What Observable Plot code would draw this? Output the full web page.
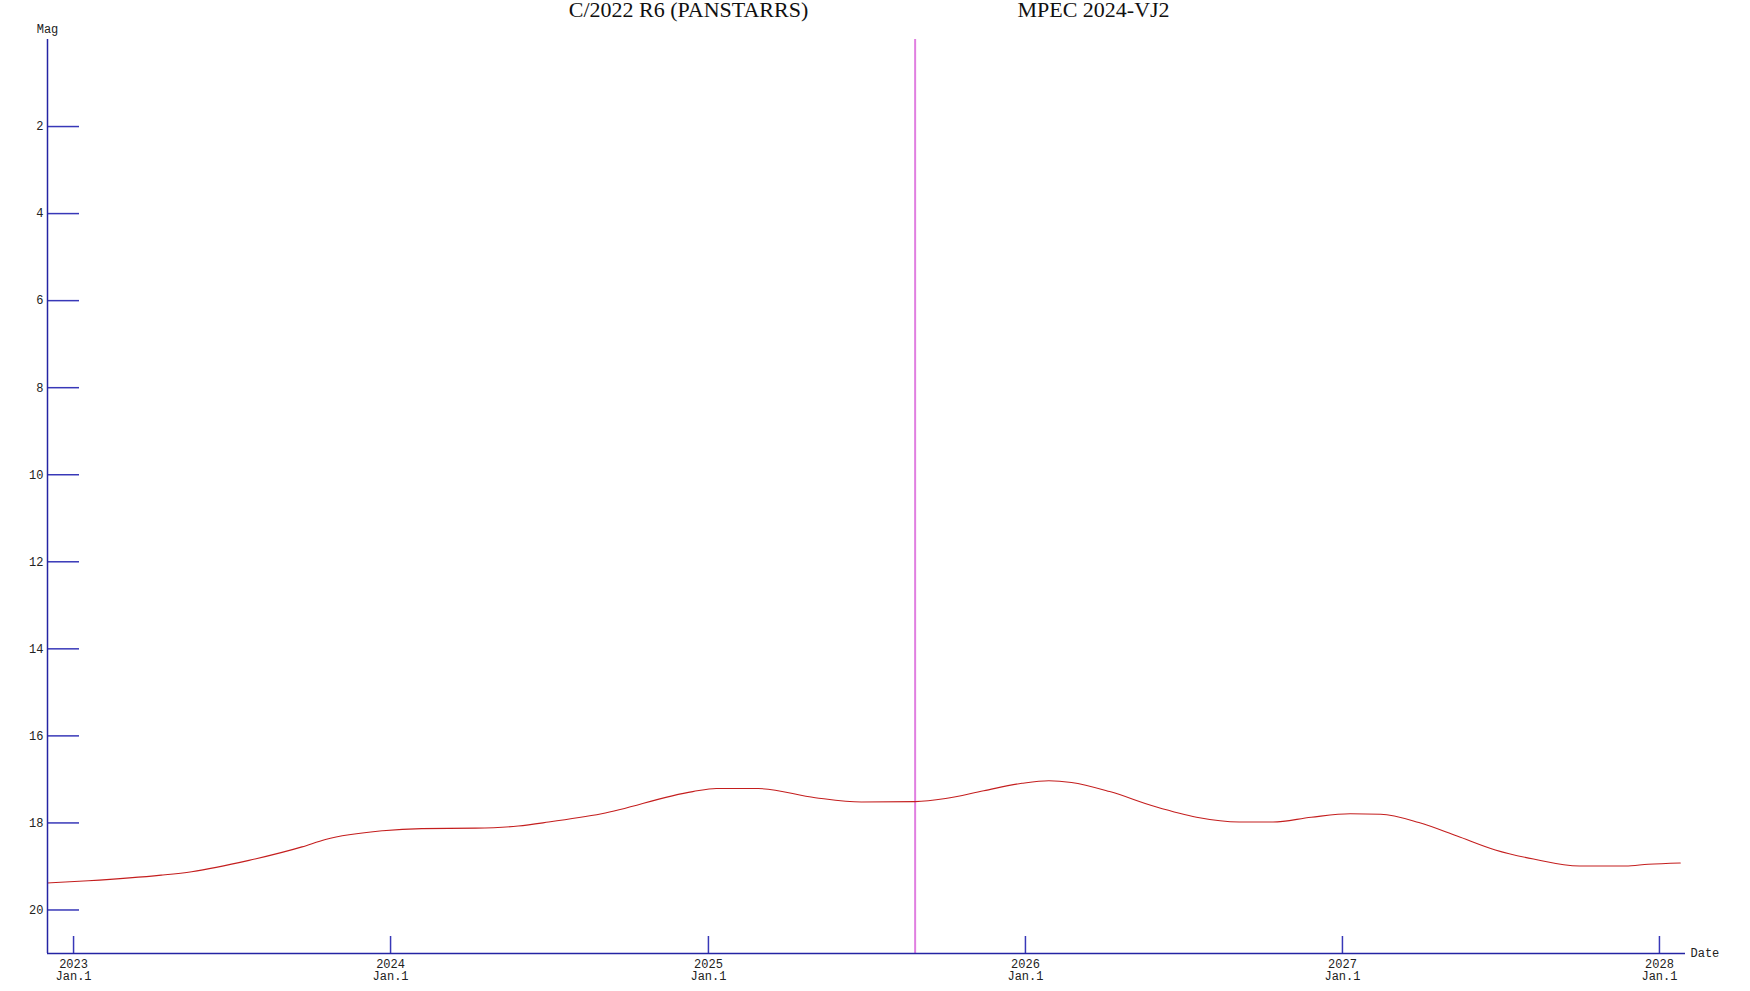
<!DOCTYPE html>
<html>
<head>
<meta charset="utf-8">
<script src="https://cdn.jsdelivr.net/npm/d3@7"></script>
<script src="https://cdn.jsdelivr.net/npm/@observablehq/plot@0.6"></script>
<style>
  html, body { margin: 0; padding: 0; background: #fff; }
</style>
</head>
<body>
<div id="chart"></div>
<script>
const titleLeft = "C/2022 R6 (PANSTARRS)";
const titleRight = "MPEC 2024-VJ2";
const yLabel = "Mag";
const xLabel = "Date";

const dates = [
  "2022-12-02","2023-01-18","2023-04-12","2023-05-17","2023-07-22","2023-09-21",
  "2023-10-18","2023-12-23","2024-02-06","2024-04-08","2024-05-27","2024-07-01",
  "2024-08-31","2024-12-14","2025-01-10","2025-02-27","2025-05-04","2025-06-26",
  "2025-08-27","2025-10-01","2025-11-14","2025-12-28","2026-01-28","2026-02-23",
  "2026-04-08","2026-05-31","2026-07-17","2026-09-04","2026-10-13","2026-11-26",
  "2027-01-10","2027-02-14","2027-03-30","2027-05-13","2027-06-26","2027-08-09",
  "2027-10-01","2027-11-23","2027-12-19","2028-01-25"
];
const mags = [
  19.38,19.33,19.20,19.12,18.86,18.55,
  18.38,18.18,18.13,18.12,18.07,17.98,
  17.79,17.28,17.21,17.21,17.42,17.52,
  17.51,17.44,17.26,17.09,17.03,17.07,
  17.28,17.63,17.87,17.98,17.98,17.87,
  17.79,17.80,17.99,18.30,18.62,18.83,
  18.99,18.99,18.95,18.92
];

const markerDate = ["2025-08-27"];
const yTicks = [2, 4, 6, 8, 10, 12, 14, 16, 18, 20];
const xTickDates = ["2023-01-01","2024-01-01","2025-01-01","2026-01-01","2027-01-01","2028-01-01"];
const xTickMonth = "Jan.1";
const xDomain = ["2022-12-02", "2028-01-31"];
const yDomain = [0, 21];

const data = dates.map((d, i) => ({date: new Date(d), mag: mags[i]}));
const xTicks = xTickDates.map(d => new Date(d));
const xDom = xDomain.map(d => new Date(d));

const W = 1750, H = 991;
const mL = 47, mR = 65, mT = 39, mB = 38;
const plotW = W - mL - mR, plotH = H - mT - mB;

const axisColor = "#2424a4";
const tickColor = "#3838b8";

const chart = Plot.plot({
  width: W,
  height: H,
  marginLeft: mL,
  marginRight: mR,
  marginTop: mT,
  marginBottom: mB,
  x: {type: "utc", domain: xDom},
  y: {domain: yDomain, reverse: true},
  style: {fontFamily: "'Liberation Mono', monospace", fontSize: "12px", color: "#222", background: "#fff", overflow: "visible"},
  marks: [
    Plot.ruleX(markerDate.map(d => new Date(d)), {x: d => d, stroke: "#e07fe0", strokeWidth: 2}),
    Plot.line(data, {x: "date", y: "mag", stroke: "#c41e1e", strokeWidth: 1.1, curve: "monotone-x"}),
    Plot.tickY(yTicks, {y: d => d, stroke: tickColor, strokeWidth: 1.5, insetRight: plotW - 32}),
    Plot.tickX(xTicks, {x: d => d, stroke: tickColor, strokeWidth: 1.5, insetTop: plotH - 17}),
    Plot.ruleX([xDom[0]], {x: d => d, stroke: axisColor, strokeWidth: 1.5}),
    Plot.ruleY([yDomain[1]], {y: d => d, stroke: axisColor, strokeWidth: 1.5}),
    Plot.axisY({ticks: yTicks, tickSize: 0, tickPadding: 4, label: null, fill: "#222"}),
    Plot.axisX({ticks: xTicks, tickSize: 0, tickPadding: 6, label: null, fill: "#222",
      tickFormat: d => `${d.getUTCFullYear()}\n${xTickMonth}`}),
    Plot.text([yLabel], {text: d => d, frameAnchor: "top-left", dy: -15, textAnchor: "middle", fill: "#222"}),
    Plot.text([xLabel], {text: d => d, frameAnchor: "bottom-right", dx: 5, dy: 3, textAnchor: "start", fill: "#222"}),
    Plot.text([titleLeft], {text: d => d, frameAnchor: "top", dx: -178, dy: -38, fontFamily: "'Liberation Serif', serif", fontSize: 22, fill: "#111"}),
    Plot.text([titleRight], {text: d => d, frameAnchor: "top", dx: 227, dy: -38, fontFamily: "'Liberation Serif', serif", fontSize: 22, fill: "#111"})
  ]
});
document.getElementById("chart").appendChild(chart);
</script>
</body>
</html>
